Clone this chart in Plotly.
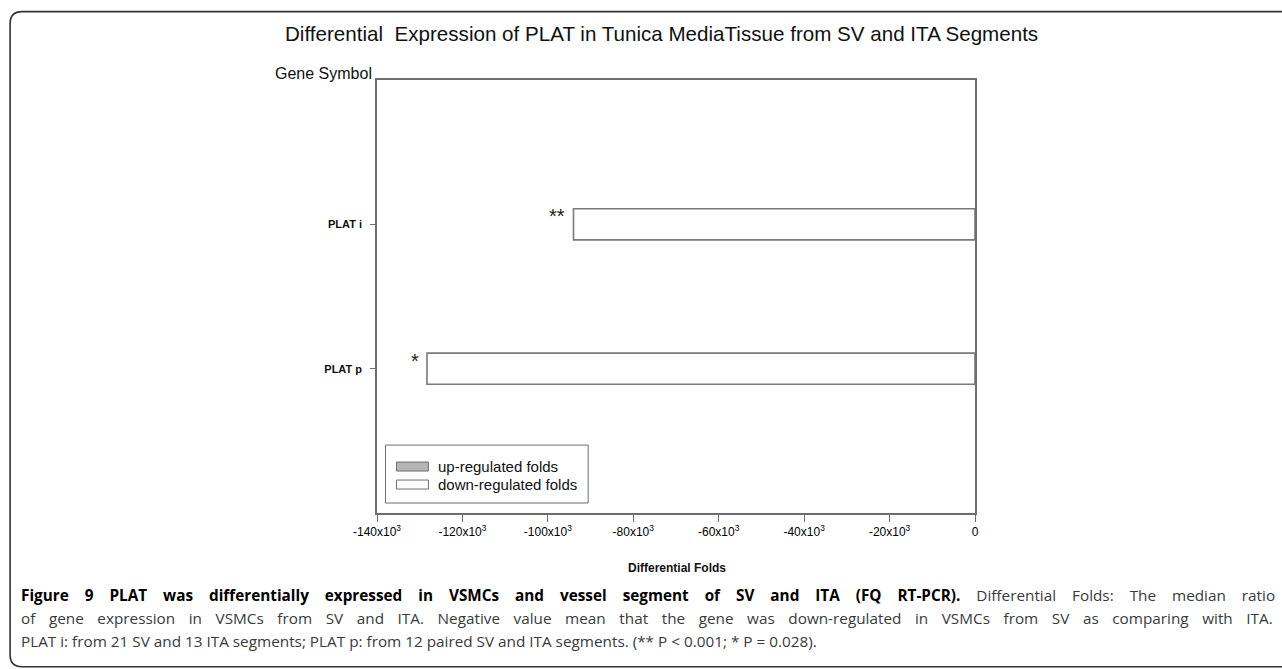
import plotly.graph_objects as go

# ---- data ----
genes = ["PLAT i", "PLAT p"]
folds = [-94000, -128300]
signif = ["**", "*"]
tick_vals = [-140000, -120000, -100000, -80000, -60000, -40000, -20000, 0]
tick_text = ["-140x10<sup>3</sup>", "-120x10<sup>3</sup>", "-100x10<sup>3</sup>", "-80x10<sup>3</sup>",
             "-60x10<sup>3</sup>", "-40x10<sup>3</sup>", "-20x10<sup>3</sup>", "0"]
legend_labels = ["up-regulated folds", "down-regulated folds"]
legend_fills = ["#b4b4b4", "#ffffff"]

title_text = "Differential  Expression of PLAT in Tunica MediaTissue from SV and ITA Segments"
cap_bold = "Figure 9 PLAT was differentially expressed in VSMCs and vessel segment of SV and ITA (FQ RT-PCR)."
cap_line1 = "Differential Folds: The median ratio"
cap_line2 = ("of gene expression in VSMCs from SV and ITA. Negative value mean that the gene was "
             "down-regulated in VSMCs from SV as comparing with ITA.")
cap_line3 = ("PLAT i: from 21 SV and 13 ITA segments; PLAT p: from 12 paired SV and ITA segments. "
             "(** P &lt; 0.001; * P = 0.028).")

# ---- layout geometry (pixels) ----
W, H = 1282, 669
L, R, T, B = 376.5, 975.5, 79.5, 513.0

def px(x):
    return (x - L) / (R - L)

def py(y):
    return (B - y) / (B - T)

AX = "#6e6e6e"
FONT = "Liberation Sans, Arial, sans-serif"
CAP = "Open Sans, Noto Sans, sans-serif"
CAPGRAY = "#3a3a3a"

fig = go.Figure()
fig.add_trace(go.Bar(
    x=folds, y=genes, orientation="h", width=0.215,
    marker=dict(color="#ffffff", line=dict(color="#7a7a7a", width=1.6)),
    showlegend=False, hoverinfo="x+y",
))

annotations = []
for g, v, s in zip(genes, folds, signif):
    annotations.append(dict(x=v, y=g, xref="x", yref="y", text=s, showarrow=False,
                            xanchor="right", yanchor="middle", xshift=-6, yshift=8,
                            font=dict(family=FONT, size=20, color="#222")))

# title & gene symbol
annotations.append(dict(x=px(661), y=py(33), xref="paper", yref="paper", text=title_text,
                        showarrow=False, xanchor="center", yanchor="middle",
                        font=dict(family=FONT, size=20.6, color="#111")))
annotations.append(dict(x=px(373), y=py(73), xref="paper", yref="paper", text="Gene Symbol",
                        showarrow=False, xanchor="right", yanchor="middle",
                        font=dict(family=FONT, size=16, color="#111")))
annotations.append(dict(x=px(677), y=py(568), xref="paper", yref="paper", text="<b>Differential Folds</b>",
                        showarrow=False, xanchor="center", yanchor="middle",
                        font=dict(family=FONT, size=12, color="#111")))

# caption (justified lines 1-2 through word spacing)
caption_lines = [
    f"<span style='font-weight:bold;color:#000;word-spacing:12px'>{cap_bold}</span>"
    f"<span style='color:{CAPGRAY};word-spacing:12px'> {cap_line1}</span>",
    f"<span style='color:{CAPGRAY};word-spacing:9.6px'>{cap_line2}</span>",
    f"<span style='color:{CAPGRAY}'>{cap_line3}</span>",
]
for i, line in enumerate(caption_lines):
    annotations.append(dict(x=px(18), y=py(595 + 23 * i), xref="paper", yref="paper", text=line,
                            showarrow=False, xanchor="left", yanchor="middle", align="left",
                            font=dict(family=CAP, size=15.3, color="#000")))

shapes = []
# legend box
shapes.append(dict(type="rect", xref="paper", yref="paper", x0=px(385), x1=px(588), y0=py(503), y1=py(445),
                   line=dict(color="#6e6e6e", width=1), fillcolor="#ffffff", layer="above"))
for i, (lab, fc) in enumerate(zip(legend_labels, legend_fills)):
    yc = 466.5 + 18 * i
    shapes.append(dict(type="rect", xref="paper", yref="paper", x0=px(396), x1=px(428),
                       y0=py(yc + 4.5), y1=py(yc - 4.5),
                       line=dict(color="#6e6e6e", width=1), fillcolor=fc, layer="above"))
    annotations.append(dict(x=px(436), y=py(yc), xref="paper", yref="paper", text=lab, showarrow=False,
                            xanchor="left", yanchor="middle",
                            font=dict(family=FONT, size=15, color="#111")))

# outer rounded frame
x0, y0, x1, y1, r = 9, 11, 1300, 667, 12
path = (f"M {px(x1)},{py(y0)} L {px(x0 + r)},{py(y0)} "
        f"Q {px(x0)},{py(y0)} {px(x0)},{py(y0 + r)} "
        f"L {px(x0)},{py(y1 - r)} Q {px(x0)},{py(y1)} {px(x0 + r)},{py(y1)} L {px(x1)},{py(y1)}")
shapes.append(dict(type="path", xref="paper", yref="paper", path=path,
                   line=dict(color="#333333", width=1.6)))

fig.update_layout(
    width=W, height=H,
    margin=dict(l=L, r=W - R, t=T, b=H - B, pad=0),
    paper_bgcolor="#ffffff", plot_bgcolor="#ffffff",
    showlegend=False,
    annotations=annotations, shapes=shapes,
    xaxis=dict(range=[-140000, 0], tickvals=tick_vals, ticktext=tick_text,
               showgrid=False, zeroline=False, showline=True, mirror=True,
               linecolor=AX, linewidth=1.6, ticks="outside", ticklen=7, tickcolor=AX, tickwidth=1.2,
               tickfont=dict(family=FONT, size=12, color="#000"), fixedrange=True),
    yaxis=dict(type="category", categoryarray=genes, range=[2, -1],
               showgrid=False, zeroline=False, showline=True, mirror=True,
               linecolor=AX, linewidth=1.6, ticks="outside", ticklen=5, tickcolor=AX, tickwidth=1.2,
               tickfont=dict(family=FONT, size=11, color="#111"),
               tickprefix="<b>", ticksuffix="</b>", ticklabelstandoff=6, fixedrange=True),
)

fig.write_html("out.html", config={"displayModeBar": False})
